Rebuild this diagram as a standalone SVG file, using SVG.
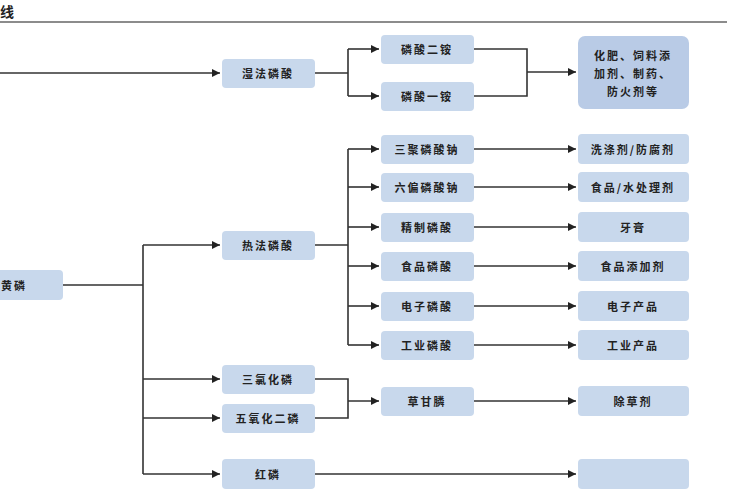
<svg xmlns="http://www.w3.org/2000/svg" width="750" height="500" viewBox="0 0 750 500">
<style>
.b{fill:#c8d8ec}
.t{font-family:"Noto Sans CJK SC","Noto Sans",sans-serif;font-size:11px;font-weight:bold;fill:#222;text-anchor:middle;dominant-baseline:central;letter-spacing:2px}
.l{fill:none;stroke:#333;stroke-width:1.6}
</style>
<defs><marker id="a" viewBox="0 0 10 10" refX="10" refY="5" markerWidth="5" markerHeight="5" orient="auto"><path d="M0,0L10,5L0,10z" fill="#222"/></marker></defs>
<rect width="750" height="500" fill="#fff"/>
<text x="0" y="11" font-family="Noto Sans CJK SC,sans-serif" font-size="14" font-weight="bold" fill="#222" dominant-baseline="central">线</text>
<line x1="0" y1="22" x2="727" y2="22" stroke="#666" stroke-width="1.5"/>
<g id="connectors">
<path class="l" d="M0,73H220" marker-end="url(#a)"/>
<path class="l" d="M315,73H348M348,49V96"/>
<path class="l" d="M348,49H379" marker-end="url(#a)"/><path class="l" d="M348,96H379" marker-end="url(#a)"/>
<path class="l" d="M474,49H527V96H474M527,72H576" marker-end="url(#a)"/>
<path class="l" d="M63,285H143M143,245V474"/>
<path class="l" d="M143,245H220" marker-end="url(#a)"/>
<path class="l" d="M143,379H220" marker-end="url(#a)"/>
<path class="l" d="M143,418H220" marker-end="url(#a)"/>
<path class="l" d="M143,474H220" marker-end="url(#a)"/>
<path class="l" d="M315,245H348M348,149V345"/>
<path class="l" d="M348,149H379" marker-end="url(#a)"/><path class="l" d="M348,187H379" marker-end="url(#a)"/>
<path class="l" d="M348,227H379" marker-end="url(#a)"/><path class="l" d="M348,266H379" marker-end="url(#a)"/>
<path class="l" d="M348,306H379" marker-end="url(#a)"/><path class="l" d="M348,345H379" marker-end="url(#a)"/>
<path class="l" d="M474,149H576" marker-end="url(#a)"/><path class="l" d="M474,187H576" marker-end="url(#a)"/>
<path class="l" d="M474,227H576" marker-end="url(#a)"/><path class="l" d="M474,266H576" marker-end="url(#a)"/>
<path class="l" d="M474,306H576" marker-end="url(#a)"/><path class="l" d="M474,345H576" marker-end="url(#a)"/>
<path class="l" d="M315,379H348V418H315M348,401H379" marker-end="url(#a)"/>
<path class="l" d="M474,401H576" marker-end="url(#a)"/>
<path class="l" d="M315,474H576" marker-end="url(#a)"/>
</g>
<g id="n-huanglin"><rect class="b" x="-6" y="270" width="69" height="30" rx="4"/><text class="t" x="14" y="285">黄磷</text></g>
<g id="n-shifa"><rect class="b" x="222" y="59" width="93" height="29" rx="4"/><text class="t" x="268" y="73">湿法磷酸</text></g>
<g id="n-rexfa"><rect class="b" x="222" y="231" width="93" height="29" rx="4"/><text class="t" x="268" y="245">热法磷酸</text></g>
<g id="n-pcl3"><rect class="b" x="222" y="365" width="93" height="29" rx="4"/><text class="t" x="268" y="379">三氯化磷</text></g>
<g id="n-p2o5"><rect class="b" x="222" y="404" width="93" height="29" rx="4"/><text class="t" x="268" y="418">五氧化二磷</text></g>
<g id="n-honglin"><rect class="b" x="222" y="459" width="93" height="30" rx="4"/><text class="t" x="268" y="474">红磷</text></g>
<g id="n-dap"><rect class="b" x="381" y="35" width="93" height="29" rx="4"/><text class="t" x="427" y="49">磷酸二铵</text></g>
<g id="n-map"><rect class="b" x="381" y="82" width="93" height="29" rx="4"/><text class="t" x="427" y="96">磷酸一铵</text></g>
<g id="n-stpp"><rect class="b" x="381" y="135" width="93" height="29" rx="4"/><text class="t" x="427" y="149">三聚磷酸钠</text></g>
<g id="n-shmp"><rect class="b" x="381" y="173" width="93" height="29" rx="4"/><text class="t" x="427" y="187">六偏磷酸钠</text></g>
<g id="n-jz"><rect class="b" x="381" y="213" width="93" height="29" rx="4"/><text class="t" x="427" y="227">精制磷酸</text></g>
<g id="n-sp"><rect class="b" x="381" y="252" width="93" height="29" rx="4"/><text class="t" x="427" y="266">食品磷酸</text></g>
<g id="n-dz"><rect class="b" x="381" y="292" width="93" height="29" rx="4"/><text class="t" x="427" y="306">电子磷酸</text></g>
<g id="n-gy"><rect class="b" x="381" y="331" width="93" height="29" rx="4"/><text class="t" x="427" y="345">工业磷酸</text></g>
<g id="n-cgl"><rect class="b" x="381" y="387" width="93" height="29" rx="4"/><text class="t" x="427" y="401">草甘膦</text></g>
<g id="n-fert"><rect fill="#b9cbe6" x="578" y="36" width="111" height="73" rx="7"/><text class="t" x="633" y="55">化肥、饲料添</text><text class="t" x="633" y="73">加剂、制药、</text><text class="t" x="633" y="91">防火剂等</text></g>
<g id="n-xd"><rect class="b" x="578" y="134" width="111" height="30" rx="4"/><text class="t" x="633" y="149">洗涤剂/防腐剂</text></g>
<g id="n-sw"><rect class="b" x="578" y="172" width="111" height="30" rx="4"/><text class="t" x="633" y="187">食品/水处理剂</text></g>
<g id="n-yg"><rect class="b" x="578" y="212" width="111" height="30" rx="4"/><text class="t" x="633" y="227">牙膏</text></g>
<g id="n-tj"><rect class="b" x="578" y="251" width="111" height="30" rx="4"/><text class="t" x="633" y="266">食品添加剂</text></g>
<g id="n-dzcp"><rect class="b" x="578" y="291" width="111" height="30" rx="4"/><text class="t" x="633" y="306">电子产品</text></g>
<g id="n-gycp"><rect class="b" x="578" y="330" width="111" height="30" rx="4"/><text class="t" x="633" y="345">工业产品</text></g>
<g id="n-ccj"><rect class="b" x="578" y="386" width="111" height="30" rx="4"/><text class="t" x="633" y="401">除草剂</text></g>
<g id="n-hidden"><rect class="b" x="578" y="459" width="111" height="30" rx="4"/></g>
</svg>
